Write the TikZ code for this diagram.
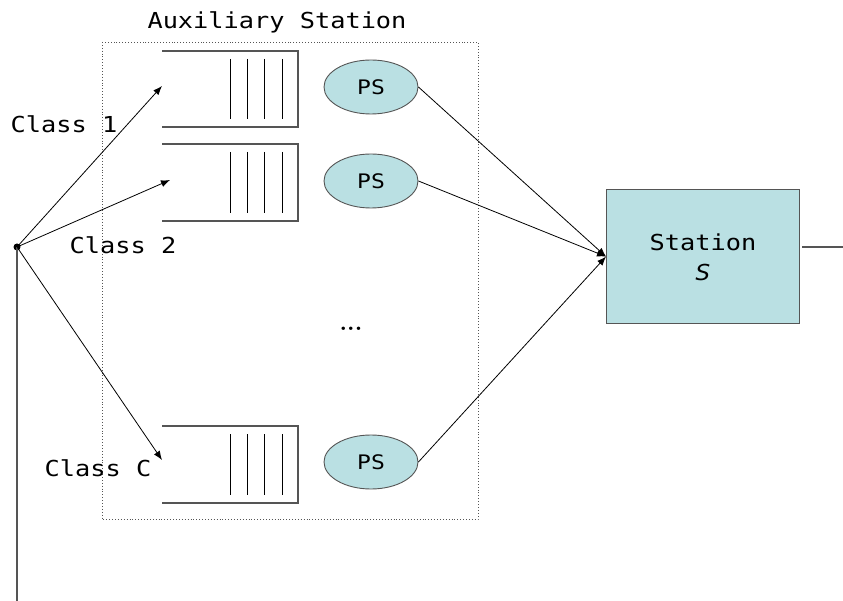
\documentclass[tikz,border=0pt]{standalone}
\usepackage{fontspec}
\setmonofont[FakeStretch=1.15]{DejaVu Sans Mono}
\usetikzlibrary{arrows.meta,shapes.geometric}
\definecolor{lblue}{HTML}{BAE0E3}
\definecolor{lgray}{HTML}{555555}
\tikzset{
  lbl/.style={font=\ttfamily\fontsize{22}{26}\selectfont, inner sep=0pt},
  ps/.style={ellipse, draw=lgray, fill=lblue, minimum width=94pt, minimum height=54pt, inner sep=0pt, font=\ttfamily\fontsize{20}{24}\selectfont, line width=0.9pt},
  qline/.style={draw=lgray, line width=1.2pt},
  bar/.style={draw=black, line width=0.9pt},
  arr/.style={-{Latex[length=9pt,width=7pt]}, line width=0.8pt},
  conn/.style={draw=lgray, line width=1.2pt}
}
\begin{document}
\begin{tikzpicture}[x=1pt,y=-1pt]
\useasboundingbox (0,0) rectangle (843,601);
% auxiliary station box
\draw[lgray, dotted, line width=0.9pt] (102,42) rectangle (478,519);
\node[lbl] (aux) at (277,22) {Auxiliary Station};
% queues
\foreach \n/\t/\b in {1/51/127, 2/144/221, C/426/503}{
  \draw[qline] (162,\t) -- (298,\t) -- (298,\b) -- (162,\b);
  \foreach \x in {230,247,264,282}{
    \draw[bar] (\x,\t+8) -- (\x,\b-8);
  }
}
\coordinate (in1) at (162,86);
\coordinate (in2) at (170,180);
\coordinate (inC) at (162,460);
% PS servers
\node[ps] (ps1) at (371,87) {PS};
\node[ps] (ps2) at (371,181) {PS};
\node[ps] (psC) at (371,462) {PS};
\node[font=\bfseries\fontsize{24}{28}\selectfont, inner sep=0pt] (dots) at (351,329) {...};
% station
\node[draw=lgray, fill=lblue, line width=1.2pt, minimum width=193pt, minimum height=134pt, inner sep=0pt, anchor=north west] (st) at (606,189) {};
\node[lbl] (stt) at (703,242) {Station};
\node[lbl, font=\ttfamily\itshape\fontsize{22}{26}\selectfont] (sts) at (703,272) {S};
\coordinate (out) at (843,247);
\draw[conn] (802,247) -- (out);
% source
\fill (17,247) circle (3.5pt) coordinate (src);
\coordinate (bot) at (17,601);
\draw[conn] (src) -- (bot);
\draw[arr] (src) -- (in1);
\draw[arr] (src) -- (in2);
\draw[arr] (src) -- (inC);
% labels
\node[lbl] (c1) at (64,124) {Class 1};
\node[lbl] (c2) at (123,245) {Class 2};
\node[lbl] (cC) at (98,468) {Class C};
% to station
\draw[arr] (ps1.east) -- (st.west);
\draw[arr] (ps2.east) -- (st.west);
\draw[arr] (psC.east) -- (st.west);
\end{tikzpicture}
\end{document}
